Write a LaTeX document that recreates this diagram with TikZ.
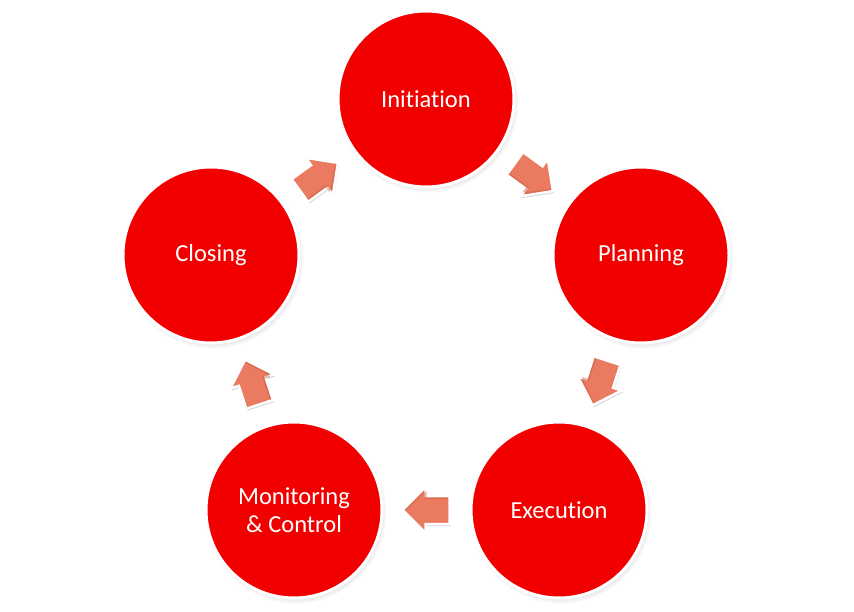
\documentclass[tikz,border=0pt]{standalone}
\usepackage{fontspec}
\setmainfont{Carlito}[Ligatures={NoCommon}]
\usetikzlibrary{shadows,calc}
\definecolor{circred}{RGB}{242,0,0}
\definecolor{arrfill}{RGB}{234,122,96}
\definecolor{arrdark}{RGB}{205,95,72}
\begin{document}
\begin{tikzpicture}[x=1pt,y=-1pt,
  phase/.style={circle, fill=circred, draw=white, line width=3pt, minimum size=176pt,
    inner sep=0pt, text=white, font=\fontsize{24.5}{28}\selectfont, align=center,
    circular drop shadow={shadow xshift=1.5pt, shadow yshift=-2.5pt, opacity=0.45, shadow scale=1.035}},
  flowshape/.style={fill=arrfill, draw=white, line width=2.5pt, line join=miter,
    drop shadow={shadow xshift=1pt, shadow yshift=-2pt, opacity=0.35}},
  flowarrow/.pic={
    \path[flowshape] (-23,-14) -- (1,-14) -- (1,-23) -- (24,0) -- (1,23) -- (1,14) -- (-23,14) -- cycle;
    \path[fill=arrdark, opacity=0.45] (-21.5,11) -- (2.5,11) -- (2.5,19.5) -- (22,0) -- (21,-0.5) -- (0,19) -- (0,12.5) -- (-21.5,12.5) -- cycle;
  }]
\useasboundingbox (0,0) rectangle (854,612);
\node[phase] (in) at (426,99) {Initiation};
\node[phase] (pl) at (641,255) {Planning};
\node[phase] (ex) at (559,510) {Execution};
\node[phase] (mc) at (294,510) {Monitoring\\\& Control};
\node[phase] (cl) at (211,255) {Closing};
\foreach \a/\b in {in/pl, pl/ex, ex/mc, mc/cl, cl/in}
  \path let \p1=($(\b)-(\a)$), \n1={atan2(\y1,\x1)} in
    ($(\a)!0.5!(\b)$) pic[rotate=\n1] {flowarrow};
\end{tikzpicture}
\end{document}
